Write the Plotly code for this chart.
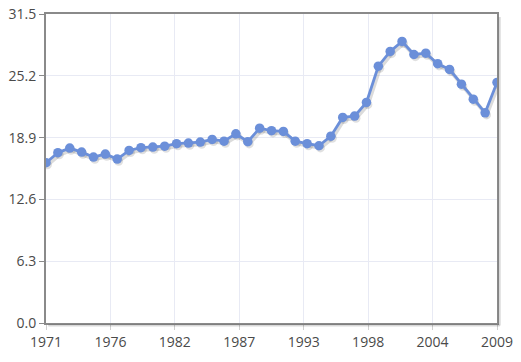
import plotly.graph_objects as go

years = list(range(1971, 2010))
values = [16.34, 17.36, 17.83, 17.42, 16.91, 17.22, 16.71, 17.59, 17.87, 17.93,
          18.03, 18.28, 18.34, 18.44, 18.71, 18.54, 19.29, 18.48, 19.86, 19.60,
          19.53, 18.54, 18.28, 18.07, 19.05, 20.96, 21.09, 22.48, 26.18, 27.68,
          28.70, 27.37, 27.51, 26.43, 25.85, 24.35, 22.82, 21.43, 24.52]
x_tick_labels = ["1971", "1976", "1982", "1987", "1993", "1998", "2004", "2009"]
y_ticks = [0.0, 6.3, 12.6, 18.9, 25.2, 31.5]

x0, x1 = years[0], years[-1]
step = (x1 - x0) / (len(x_tick_labels) - 1)
x_tick_vals = [x0 + i * step for i in range(len(x_tick_labels))]

line_color = "#6b8fd9"

fig = go.Figure()
# shadow
fig.add_trace(go.Scatter(
    x=[v + 0.12 for v in years], y=[v - 0.22 for v in values], mode="lines+markers",
    line=dict(color="rgba(0,0,0,0.14)", width=4),
    marker=dict(size=9, color="rgba(0,0,0,0.12)"),
    hoverinfo="skip", showlegend=False))
fig.add_trace(go.Scatter(
    x=years, y=values, mode="lines+markers",
    line=dict(color=line_color, width=2.8),
    marker=dict(size=9.5, color=line_color),
    showlegend=False))

axis_font = dict(family="Open Sans", size=14, color="#4a4a4a")
fig.update_xaxes(range=[x0, x1], tickvals=x_tick_vals, ticktext=x_tick_labels,
                 showgrid=True, gridcolor="#e8eaf4", gridwidth=1,
                 showline=True, mirror=True, linecolor="#8a8a8a", linewidth=2,
                 ticks="outside", ticklen=5, tickcolor="#d0d0d0",
                 tickfont=axis_font, zeroline=False, automargin=False)
fig.update_yaxes(range=[0, 31.5], tickvals=y_ticks, ticktext=[f"{v:.1f}" for v in y_ticks],
                 showgrid=True, gridcolor="#e8eaf4", gridwidth=1,
                 showline=True, mirror=True, linecolor="#8a8a8a", linewidth=2,
                 ticks="outside", ticklen=5, tickcolor="#8a8a8a",
                 tickfont=axis_font, zeroline=False, automargin=False)

# plot-area drop shadow
fig.add_shape(type="line", xref="paper", yref="paper", x0=1.006, x1=1.006, y0=-0.008, y1=0.99,
              line=dict(color="rgba(0,0,0,0.15)", width=2))
fig.add_shape(type="line", xref="paper", yref="paper", x0=0.005, x1=1.006, y0=-0.008, y1=-0.008,
              line=dict(color="rgba(0,0,0,0.15)", width=2))

fig.update_layout(width=521, height=362, margin=dict(l=46, r=24, t=14, b=39),
                  paper_bgcolor="white", plot_bgcolor="white")
fig.write_html("out.html", config={"displayModeBar": False},
               post_script="document.body.style.margin='0';")
